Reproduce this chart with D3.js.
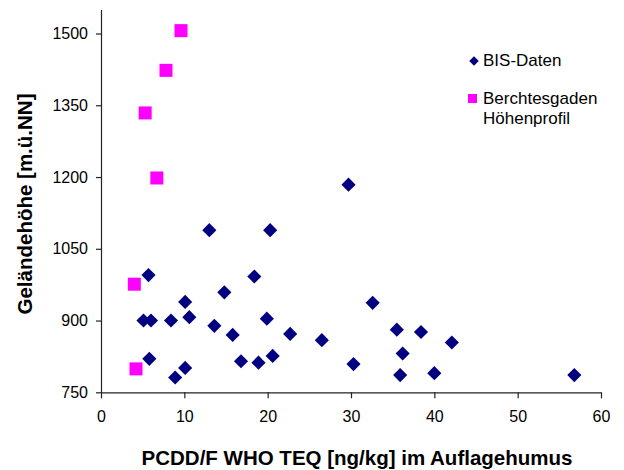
<!DOCTYPE html>
<html>
<head>
  <meta charset="utf-8">
  <script src="https://d3js.org/d3.v7.min.js"></script>
  <style>
    body { margin: 0; background: #fff; }
    text { font-family: "Liberation Sans", Arial, sans-serif; }
  </style>
</head>
<body>
<div id="chart"></div>
<script>
// BIS-Daten (diamonds)
const bisX = [13.0, 20.3, 5.7, 18.4, 14.8, 10.1, 5.1, 6.0, 8.4, 10.6, 13.6, 19.9, 15.8, 22.7,
              5.8, 16.8, 18.9, 20.6, 10.1, 8.9, 29.7, 32.6, 26.5, 35.5, 38.4, 42.1, 36.2, 30.3,
              35.9, 40.0, 56.8];
const bisY = [1089, 1089, 995, 992, 959, 939, 900, 900, 900, 907, 889, 904, 870, 872,
              820, 815, 812, 826, 801, 781, 1184, 937, 859, 881, 876, 854, 831, 809,
              786, 790, 786];
// Berchtesgaden Höhenprofil (squares)
const bgX = [9.6, 7.8, 5.3, 6.7, 4.0, 4.2];
const bgY = [1506, 1423, 1334, 1198, 976, 799];

const xTicks = [0, 10, 20, 30, 40, 50, 60];
const yTicks = [750, 900, 1050, 1200, 1350, 1500];

const width = 624, height = 470;

const svg = d3.select("#chart")
  .append("svg")
    .attr("width", width)
    .attr("height", height);

const x = d3.scaleLinear().domain([0, 60]).range([101, 601]);
const y = d3.scaleLinear().domain([750, 1550]).range([392.3, 9.6]);

// axes
const xAxis = svg.append("g")
  .attr("transform", `translate(0, ${y(750)})`)
  .call(d3.axisBottom(x).tickValues(xTicks).tickFormat(d3.format("d"))
    .tickSize(6).tickSizeOuter(0).tickPadding(12));

const yAxis = svg.append("g")
  .attr("transform", `translate(${x(0)}, 0)`)
  .call(d3.axisLeft(y).tickValues(yTicks).tickFormat(d3.format("d"))
    .tickSize(5).tickSizeOuter(0).tickPadding(8));

[xAxis, yAxis].forEach(a => {
  a.selectAll("path, line").attr("stroke", "#222").attr("stroke-width", 1.2);
  a.selectAll("text")
    .attr("fill", "#000")
    .style("font-size", "16px")
    .style("font-family", "'Liberation Sans', Arial, sans-serif");
});

// axis titles
svg.append("text")
  .attr("x", 357)
  .attr("y", 465)
  .attr("text-anchor", "middle")
  .style("font-size", "20.5px")
  .style("font-weight", "bold")
  .text("PCDD/F WHO TEQ [ng/kg] im Auflagehumus");

svg.append("text")
  .attr("transform", "translate(32, 204) rotate(-90)")
  .attr("text-anchor", "middle")
  .style("font-size", "20.5px")
  .style("font-weight", "bold")
  .text("Geländehöhe [m.ü.NN]");

// points
const diamond = d3.symbol().type(d3.symbolSquare).size(100);

svg.append("g")
  .selectAll("path")
  .data(bisX.map((d, i) => ({x: d, y: bisY[i]})))
  .join("path")
    .attr("d", diamond)
    .attr("transform", d => `translate(${x(d.x)}, ${y(d.y)}) rotate(45)`)
    .attr("fill", "#000080");

svg.append("g")
  .selectAll("rect")
  .data(bgX.map((d, i) => ({x: d, y: bgY[i]})))
  .join("rect")
    .attr("x", d => x(d.x) - 6.5)
    .attr("y", d => y(d.y) - 6.5)
    .attr("width", 13)
    .attr("height", 13)
    .attr("fill", "#ff00ff");

// legend
const legend = svg.append("g");
legend.append("path")
  .attr("d", d3.symbol().type(d3.symbolSquare).size(45))
  .attr("transform", "translate(474, 61) rotate(45)")
  .attr("fill", "#000080");
legend.append("text")
  .attr("x", 483).attr("y", 66)
  .style("font-size", "17px")
  .text("BIS-Daten");
legend.append("rect")
  .attr("x", 468).attr("y", 94)
  .attr("width", 9).attr("height", 9)
  .attr("fill", "#ff00ff");
legend.append("text")
  .attr("x", 483).attr("y", 104)
  .style("font-size", "17px")
  .text("Berchtesgaden");
legend.append("text")
  .attr("x", 483).attr("y", 124)
  .style("font-size", "17px")
  .text("Höhenprofil");
</script>
</body>
</html>
